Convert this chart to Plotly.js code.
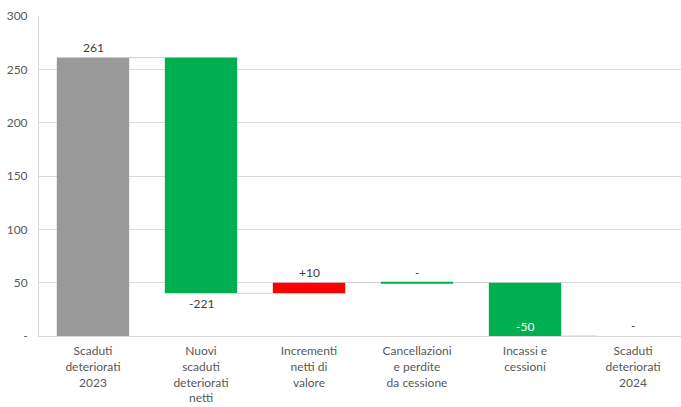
<!DOCTYPE html>
<html>
<head>
<meta charset="utf-8">
<script src="https://cdn.plot.ly/plotly-3.0.1.min.js"></script>
<style>
  html, body { margin: 0; padding: 0; background: #ffffff; }
  #chart { width: 681px; height: 407px; }
</style>
</head>
<body>
<div id="chart"></div>
<script>
// Waterfall: movimenti degli scaduti deteriorati (2023 -> 2024)
const categories = [
  'Scaduti<br>deteriorati<br>2023',
  'Nuovi<br>scaduti<br>deteriorati<br>netti',
  'Incrementi<br>netti di<br>valore',
  'Cancellazioni<br>e perdite<br>da cessione',
  'Incassi e<br>cessioni',
  'Scaduti<br>deteriorati<br>2024'
];
const values   = [261, -221, 10, 0, -50, 0];
const measures = ['total', 'relative', 'relative', 'relative', 'relative', 'total'];
const yTickVals = [0, 50, 100, 150, 200, 250, 300];
const yTickText = ['-', '50', '100', '150', '200', '250', '300'];

const GREEN = '#00b050', RED = '#ff0000', GREY = '#adadad';
const BAR_W = 0.67;

// running totals -> bar bases and ends
const bases = [], sizes = [], ends = [];
let running = 0;
values.forEach((v, i) => {
  if (measures[i] === 'total') {
    bases.push(0); sizes.push(v); running = v;
  } else {
    bases.push(running); sizes.push(v); running += v;
  }
  ends.push(running);
});

const idx = categories.map((_, i) => i);
const colors = values.map((v, i) =>
  measures[i] === 'total' ? GREY : (v > 0 ? RED : GREEN));
const lineW = values.map((v, i) => (measures[i] === 'relative' && v === 0) ? 2 : 0);
const patterns = measures.map(m => m === 'total' ? '.' : '');

const bars = {
  type: 'bar',
  x: idx,
  y: sizes,
  base: bases,
  width: BAR_W,
  marker: {
    color: colors,
    line: { color: colors, width: lineW },
    // fine stipple on the total bars
    pattern: {
      shape: patterns, bgcolor: colors, fgcolor: '#a1a1a1',
      fillmode: 'overlay', size: 2, solidity: 0.4
    }
  },
  hoverinfo: 'skip',
  showlegend: false
};

// connector lines between consecutive bars
const cx = [], cy = [];
for (let i = 0; i < values.length - 1; i++) {
  cx.push(i + BAR_W / 2, i + 1 - BAR_W / 2, null);
  cy.push(ends[i], ends[i], null);
}
const connectors = {
  type: 'scatter', mode: 'lines', x: cx, y: cy,
  line: { color: '#d0d0d0', width: 1 },
  hoverinfo: 'skip', showlegend: false
};

function fmt(v, i) {
  if (v === 0) return '-';
  if (measures[i] === 'relative' && v > 0) return '+' + v;
  return String(v);
}

const annotations = values.map((v, i) => {
  const a = {
    x: i, text: fmt(v, i), showarrow: false,
    font: { family: 'Lato, "Open Sans", sans-serif', size: 12, color: '#404040' }
  };
  if (v >= 0) {
    a.y = ends[i]; a.yanchor = 'bottom'; a.yshift = 1;
  } else if (ends[i] > 0) {
    a.y = ends[i]; a.yanchor = 'top'; a.yshift = -1;
  } else {
    a.y = ends[i]; a.yanchor = 'bottom'; a.yshift = 0;
    a.font.color = '#ffffff';
  }
  return a;
});

const layout = {
  width: 681, height: 407,
  margin: { l: 39, r: 0, t: 16, b: 71, pad: 0 },
  paper_bgcolor: '#ffffff', plot_bgcolor: '#ffffff',
  font: { family: 'Lato, "Open Sans", sans-serif', size: 12, color: '#595959' },
  bargap: 0,
  xaxis: {
    range: [-0.5, 5.444],
    tickvals: idx, ticktext: categories,
    showgrid: false, zeroline: false,
    showline: true, linecolor: '#d9d9d9', linewidth: 1,
    ticks: '', ticklabelstandoff: 4,
    tickfont: { size: 12, color: '#595959' },
    fixedrange: true
  },
  yaxis: {
    range: [0, 300],
    tickvals: yTickVals, ticktext: yTickText,
    showgrid: true, gridcolor: '#d9d9d9', gridwidth: 1,
    zeroline: false,
    showline: true, linecolor: '#d9d9d9', linewidth: 1,
    ticks: '', ticklabelstandoff: 8,
    tickfont: { size: 12, color: '#595959' },
    fixedrange: true
  },
  annotations: annotations
};

Plotly.newPlot('chart', [connectors, bars], layout, { staticPlot: true, displayModeBar: false });
</script>
</body>
</html>
